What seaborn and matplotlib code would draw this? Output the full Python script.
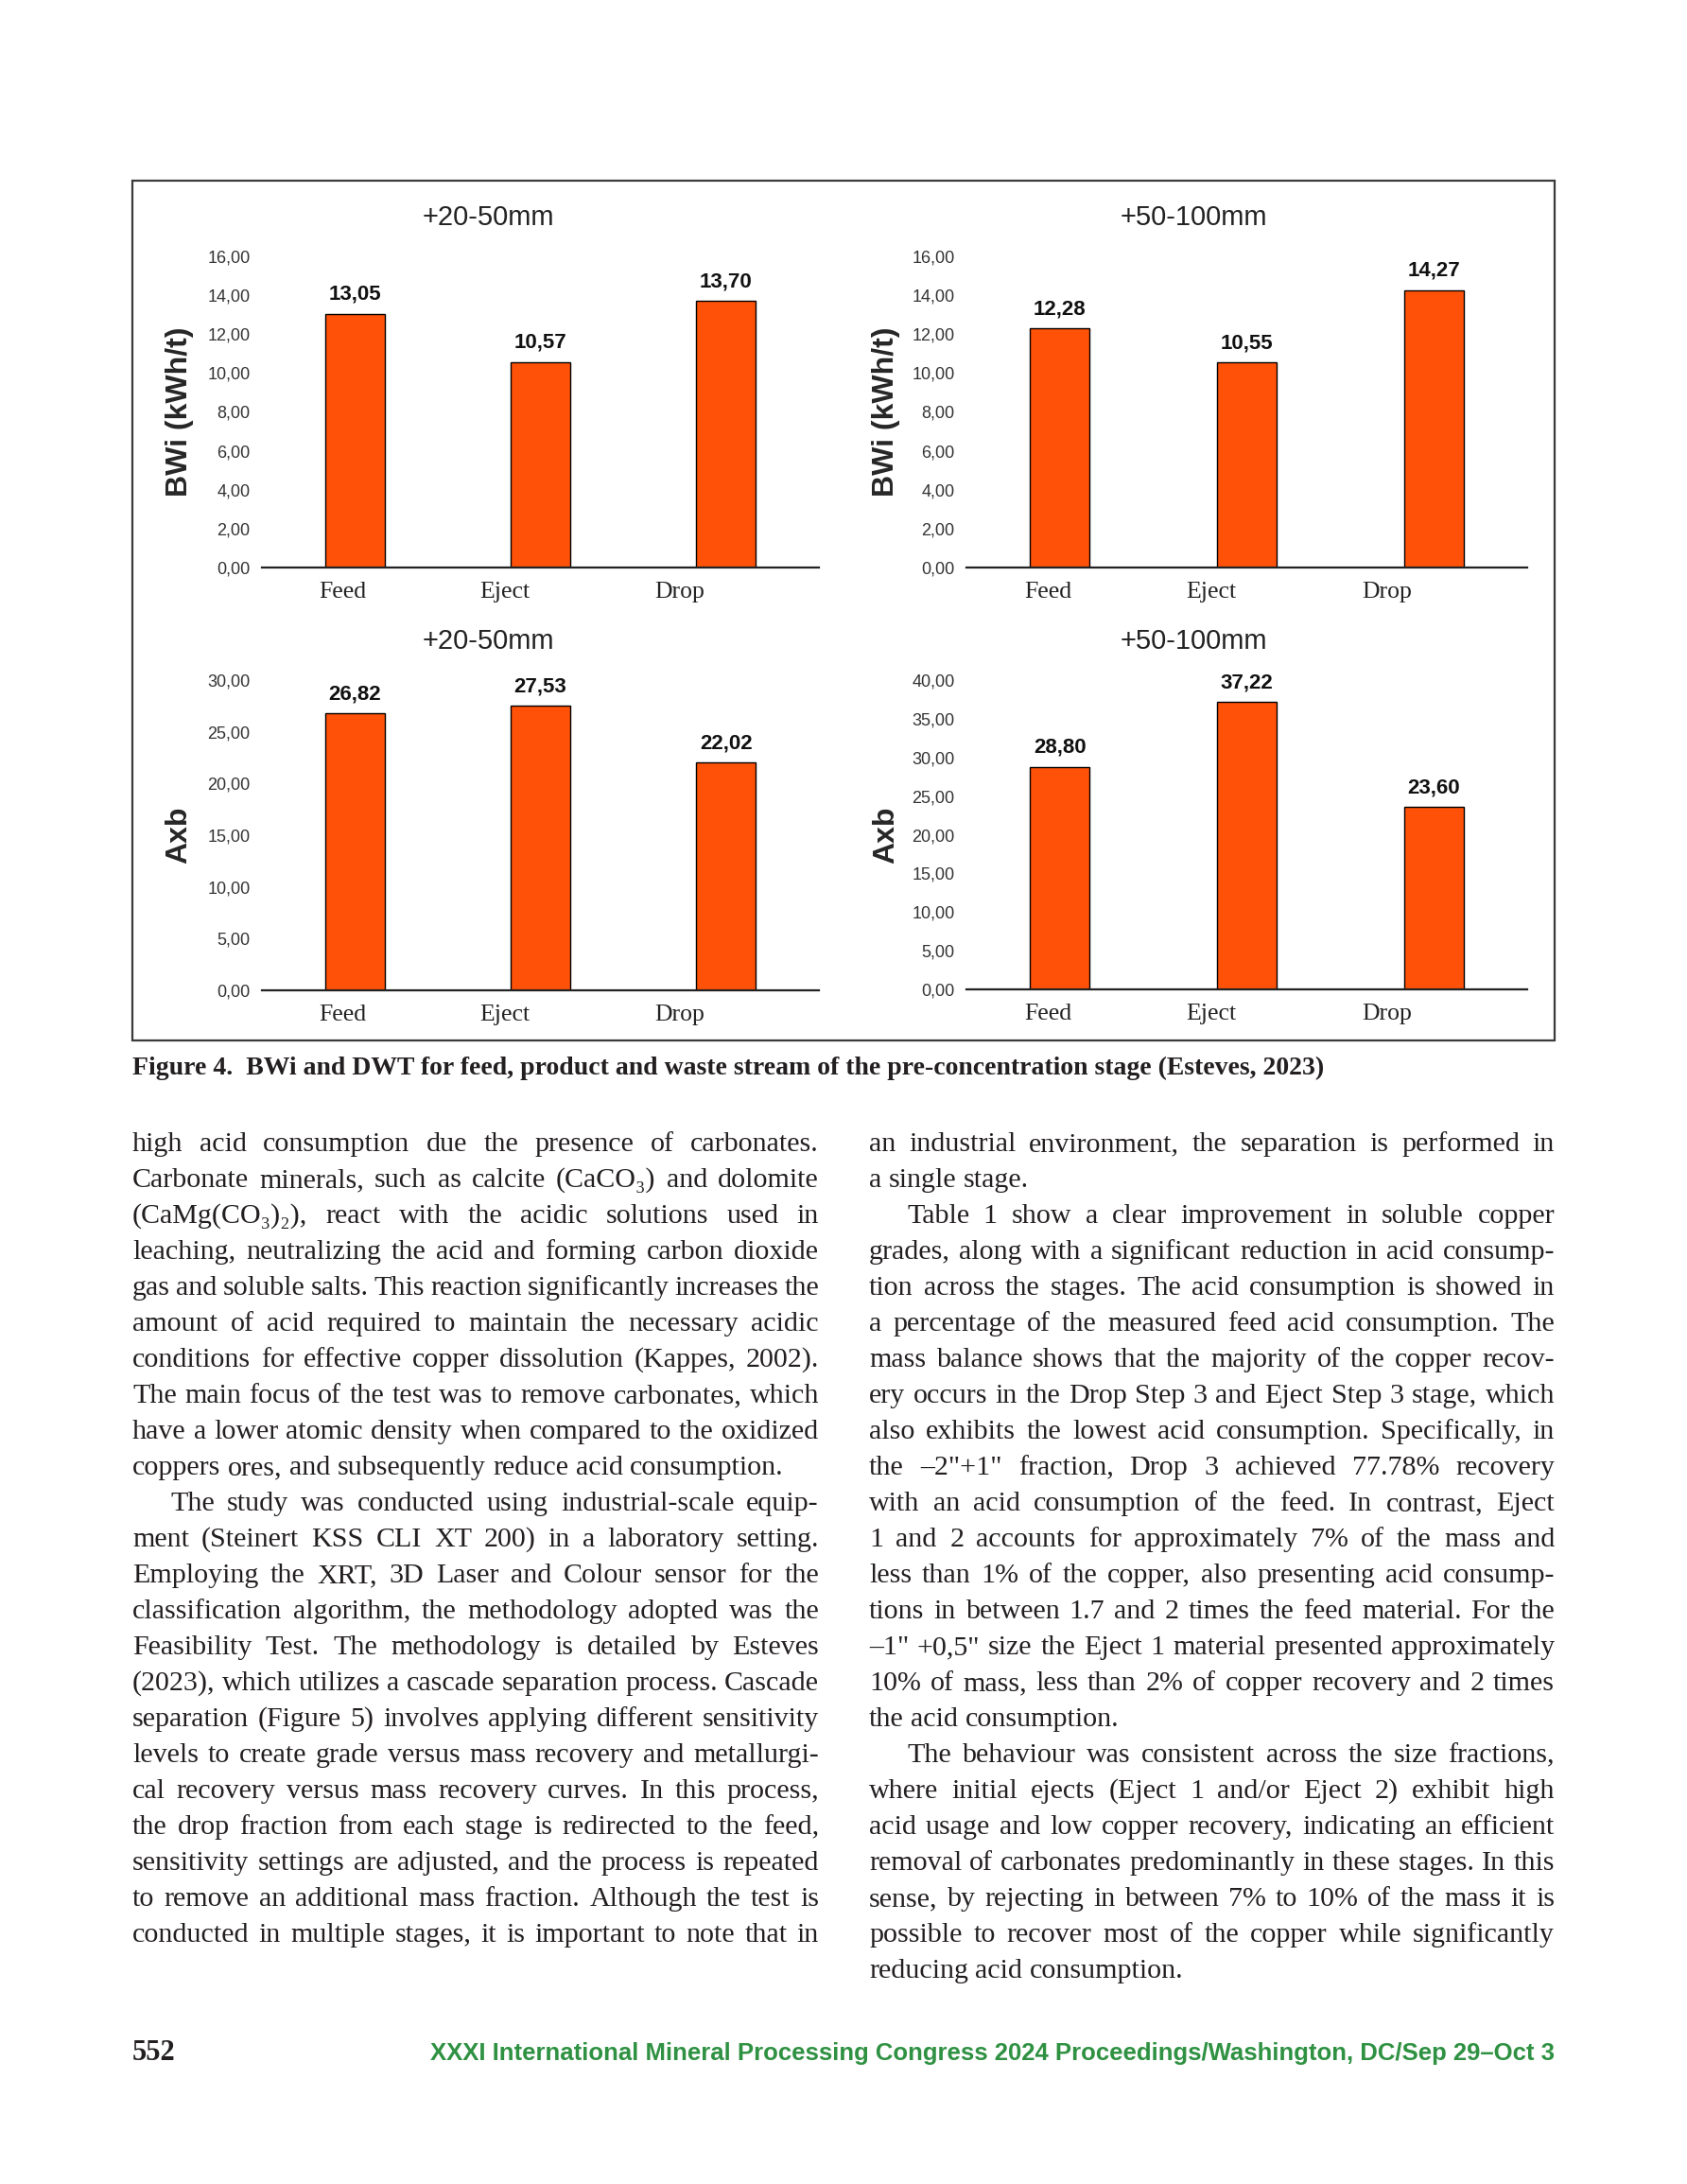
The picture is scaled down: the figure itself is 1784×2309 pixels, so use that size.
import numpy as np
import matplotlib
matplotlib.use('Agg')
import matplotlib.pyplot as plt
import seaborn as sns
from matplotlib.font_manager import FontProperties
from matplotlib.patches import Rectangle

# chart data
stages = ['Feed', 'Eject', 'Drop']
bwi_20_50 = [13.05, 10.57, 13.70]
bwi_50_100 = [12.28, 10.55, 14.27]
axb_20_50 = [26.82, 27.53, 22.02]
axb_50_100 = [28.80, 37.22, 23.60]
size_titles = ['+20-50mm', '+50-100mm', '+20-50mm', '+50-100mm']
y_labels = ['BWi (kWh/t)', 'BWi (kWh/t)', 'Axb', 'Axb']
y_max = [16, 16, 30, 40]
y_step = [2, 2, 5, 5]

caption = ('Figure 4.  BWi and DWT for feed, product and waste stream of the '
           'pre-concentration stage (Esteves, 2023)')
page_no = '552'
footer = 'XXXI International Mineral Processing Congress 2024 Proceedings/Washington, DC/Sep 29–Oct 3'

# body text: (indent first line, lines, paragraph ends here)
left_col = [
    (False, ['high acid consumption due the presence of carbonates.',
             'Carbonate minerals, such as calcite (CaCO₃) and dolomite',
             '(CaMg(CO₃)₂), react with the acidic solutions used in',
             'leaching, neutralizing the acid and forming carbon dioxide',
             'gas and soluble salts. This reaction significantly increases the',
             'amount of acid required to maintain the necessary acidic',
             'conditions for effective copper dissolution (Kappes, 2002).',
             'The main focus of the test was to remove carbonates, which',
             'have a lower atomic density when compared to the oxidized',
             'coppers ores, and subsequently reduce acid consumption.'], True),
    (True, ['The study was conducted using industrial-scale equip-',
            'ment (Steinert KSS CLI XT 200) in a laboratory setting.',
            'Employing the XRT, 3D Laser and Colour sensor for the',
            'classification algorithm, the methodology adopted was the',
            'Feasibility Test. The methodology is detailed by Esteves',
            '(2023), which utilizes a cascade separation process. Cascade',
            'separation (Figure 5) involves applying different sensitivity',
            'levels to create grade versus mass recovery and metallurgi-',
            'cal recovery versus mass recovery curves. In this process,',
            'the drop fraction from each stage is redirected to the feed,',
            'sensitivity settings are adjusted, and the process is repeated',
            'to remove an additional mass fraction. Although the test is',
            'conducted in multiple stages, it is important to note that in'], False),
]
right_col = [
    (False, ['an industrial environment, the separation is performed in',
             'a single stage.'], True),
    (True, ['Table 1 show a clear improvement in soluble copper',
            'grades, along with a significant reduction in acid consump-',
            'tion across the stages. The acid consumption is showed in',
            'a percentage of the measured feed acid consumption. The',
            'mass balance shows that the majority of the copper recov-',
            'ery occurs in the Drop Step 3 and Eject Step 3 stage, which',
            'also exhibits the lowest acid consumption. Specifically, in',
            'the –2"+1" fraction, Drop 3 achieved 77.78% recovery',
            'with an acid consumption of the feed. In contrast, Eject',
            '1 and 2 accounts for approximately 7% of the mass and',
            'less than 1% of the copper, also presenting acid consump-',
            'tions in between 1.7 and 2 times the feed material. For the',
            '–1" +0,5" size the Eject 1 material presented approximately',
            '10% of mass, less than 2% of copper recovery and 2 times',
            'the acid consumption.'], True),
    (True, ['The behaviour was consistent across the size fractions,',
            'where initial ejects (Eject 1 and/or Eject 2) exhibit high',
            'acid usage and low copper recovery, indicating an efficient',
            'removal of carbonates predominantly in these stages. In this',
            'sense, by rejecting in between 7% to 10% of the mass it is',
            'possible to recover most of the copper while significantly',
            'reducing acid consumption.'], True),
]

W, H = 1784, 2309
BAR = '#FF5208'
SANS = ['Liberation Sans', 'DejaVu Sans']
SERIF = ['Liberation Serif', 'DejaVu Serif']

sns.set_style('white')
plt.rcParams['font.family'] = SANS

fig = plt.figure(figsize=(W / 100, H / 100), dpi=100)
fig.patch.set_facecolor('white')


def fx(x):
    return x / W


def fy(y):
    return 1 - y / H


def fmt(v):
    return f'{v:.2f}'.replace('.', ',')


# axes boxes in page pixels: left, right, top, bottom
boxes = [(277, 866, 271, 600), (1022, 1615, 271, 600),
         (277, 866, 719, 1047), (1022, 1615, 719, 1046)]
label_x = [-0.123, -0.118, -0.123, -0.118]
# the category labels sit a little left of their bars in the original
xlabel_pos = [-0.065, 0.81, 1.75]
series = [bwi_20_50, bwi_50_100, axb_20_50, axb_50_100]

for i, vals in enumerate(series):
    l, r, t, b = boxes[i]
    ax = fig.add_axes([fx(l), fy(b), (r - l) / W, (b - t) / H])
    sns.barplot(x=stages, y=vals, color=BAR, saturation=1, edgecolor='black',
                linewidth=1.0, width=0.32, ax=ax)
    ax.set_xlim(-0.5, 2.5)
    ax.set_ylim(0, y_max[i])
    ax.set_xticks(xlabel_pos, labels=stages)
    ticks = np.arange(0, y_max[i] + 0.1, y_step[i])
    ax.set_yticks(ticks)
    ax.set_yticklabels([fmt(v) for v in ticks])
    ax.tick_params(axis='y', length=0, pad=9, labelsize=13, labelcolor='#333333')
    ax.tick_params(axis='x', length=0, pad=11, labelsize=18.5, labelcolor='#222222')
    for lab in ax.get_xticklabels():
        lab.set_fontfamily(SERIF)
    for s in ['top', 'right', 'left']:
        ax.spines[s].set_visible(False)
    ax.spines['bottom'].set_color('#222222')
    ax.spines['bottom'].set_linewidth(1.6)
    ax.set_xlabel('')
    ax.set_ylabel(y_labels[i], fontsize=23, fontweight='bold', family=SANS)
    ax.yaxis.set_label_coords(label_x[i], 0.5)
    ax.bar_label(ax.containers[0], labels=[fmt(v) for v in vals], padding=7,
                 fontsize=16, fontweight='bold', color='#111111')
    ax.text(0.406, 1.125, size_titles[i], transform=ax.transAxes,
            ha='center', va='center', fontsize=21, color='#222222')

# frame round the figure panel
fig.add_artist(Rectangle((fx(140), fy(1100)), (1644 - 140) / W, (1100 - 191) / H,
                         transform=fig.transFigure, fill=False,
                         edgecolor='#3a3a3a', lw=1.6))

renderer = fig.canvas.get_renderer()


def text_w(s, prop):
    w, h, d = renderer.get_text_width_height_descent(s, prop, ismath=False)
    return w


def fit_size(s, prop, width):
    p = prop.copy()
    p.set_size(20)
    return 20 * width / text_w(s, p)


# caption
cap_prop = FontProperties(family=SERIF, weight='bold', size=20)
cap_prop.set_size(fit_size(caption, cap_prop, 1262))
fig.text(fx(140), fy(1136), caption, fontproperties=cap_prop, va='baseline',
         color='#231f20')

# body text, justified in two columns
col_x = [(140, 866), (919, 1644)]
indent = 40
first_base = 1217
pitch = 38

base_prop = FontProperties(family=SERIF, size=20)
space20 = text_w('a a', base_prop) - text_w('aa', base_prop)
fit = []
for col in (left_col, right_col):
    for ind, lines, ends in col:
        for k, line in enumerate(lines):
            if ends and k == len(lines) - 1:
                continue
            words = line.split(' ')
            avail = 726 - (indent if ind and k == 0 else 0)
            natural = sum(text_w(w, base_prop) for w in words) + 0.8 * space20 * (len(words) - 1)
            fit.append(20 * avail / natural)
body_fs = min(22.5, min(fit))
body_prop = FontProperties(family=SERIF, size=body_fs)
space = text_w('a a', body_prop) - text_w('aa', body_prop)

for (x0, x1), col in zip(col_x, (left_col, right_col)):
    row = 0
    for ind, lines, ends in col:
        for k, line in enumerate(lines):
            y = first_base + row * pitch
            start = x0 + (indent if ind and k == 0 else 0)
            words = line.split(' ')
            widths = [text_w(w, body_prop) for w in words]
            if (ends and k == len(lines) - 1) or len(words) == 1:
                gap = space
            else:
                gap = (x1 - start - sum(widths)) / (len(words) - 1)
            x = start
            for w, ww in zip(words, widths):
                fig.text(fx(x), fy(y), w, fontproperties=body_prop,
                         va='baseline', ha='left', color='#231f20')
                x += ww + gap
            row += 1

# footer
fig.text(fx(140), fy(2178), page_no, family=SERIF, fontweight='bold',
         fontsize=22, va='baseline', color='#231f20')
foot_prop = FontProperties(family=SANS, weight='bold', size=20)
foot_prop.set_size(fit_size(footer, foot_prop, 1192))
fig.text(fx(1644), fy(2178), footer, fontproperties=foot_prop, ha='right',
         va='baseline', color='#2f9142')

fig.savefig('out.png', dpi=100, facecolor='white')
